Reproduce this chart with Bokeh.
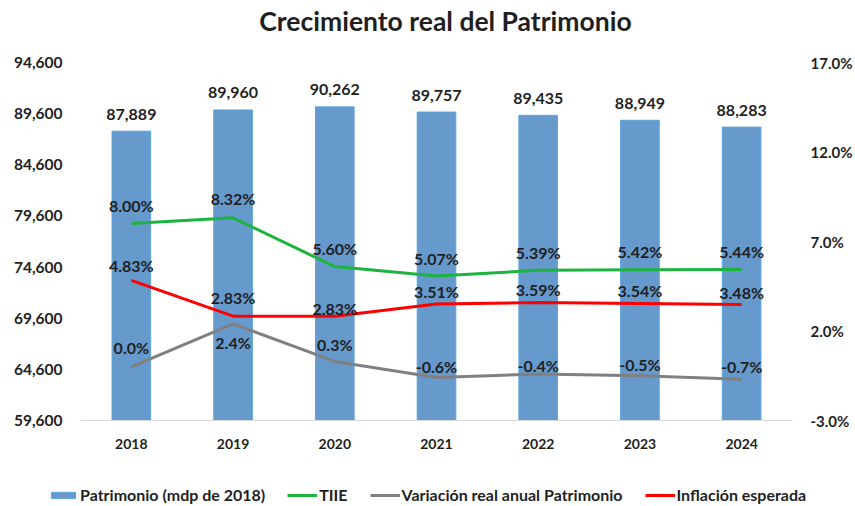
from bokeh.plotting import figure
from bokeh.models import (Range1d, LinearAxis, FactorRange, Legend, LegendItem,
                          NumeralTickFormatter, FixedTicker, CustomJSTickFormatter)
from bokeh.embed import file_html
from bokeh.resources import INLINE
from bokeh.core.properties import value

# ---- data ----
title_text = "Crecimiento real del Patrimonio"
years = ["2018", "2019", "2020", "2021", "2022", "2023", "2024"]
patrimonio = [87889, 89960, 90262, 89757, 89435, 88949, 88283]
tiie = [8.00, 8.32, 5.60, 5.07, 5.39, 5.42, 5.44]
inflacion = [4.83, 2.83, 2.83, 3.51, 3.59, 3.54, 3.48]
variacion = [0.0, 2.4, 0.3, -0.6, -0.4, -0.5, -0.7]
left_ticks = [59600, 64600, 69600, 74600, 79600, 84600, 89600, 94600]
right_ticks = [-3.0, 2.0, 7.0, 12.0, 17.0]
series_names = ["Patrimonio (mdp de 2018)", "TIIE",
                "Variación real anual Patrimonio", "Inflación esperada"]

patrimonio_labels = [f"{v:,}" for v in patrimonio]
tiie_labels = [f"{v:.2f}%" for v in tiie]
inflacion_labels = [f"{v:.2f}%" for v in inflacion]
variacion_labels = [f"{v:.1f}%" for v in variacion]

# label pixel offsets (styling)
tiie_off = [-18, -19, -18, -18, -18, -18, -18]
infl_off = [-15, -19, -8, -12, -13, -13, -12]
var_off = [-19, 19, -17, -11, -8, -11, -13]

FONT = "Lato"
TXT = "#1f1f1f"
C_BAR, C_BAR_LINE = "#6699CC", "#5DA5DD"
C_TIIE, C_VAR, C_INF = "#1DB33F", "#808080", "#FF0000"
W = 855

# ---- title strip ----
tt = figure(width=W, height=40, x_range=Range1d(0, W), y_range=Range1d(0, 40),
            output_backend="svg", toolbar_location=None, min_border=0,
            outline_line_color=None, x_axis_location=None, y_axis_location=None)
tt.grid.visible = False
tt.text(x=[445], y=[20], text=[title_text], text_font=value(FONT),
        text_font_size="26.5px", text_font_style="bold", text_color=TXT,
        text_align="center", text_baseline="middle")

# ---- main chart ----
p = figure(width=W, height=430, x_range=FactorRange(*years),
           y_range=Range1d(left_ticks[0], left_ticks[-1]),
           output_backend="svg", toolbar_location=None,
           min_border_left=80, min_border_right=61,
           min_border_top=22, min_border_bottom=50)
p.extra_y_ranges = {"pct": Range1d(right_ticks[0], right_ticks[-1])}

p.outline_line_color = None
p.xgrid.grid_line_color = None
p.ygrid.grid_line_color = None

p.vbar(x=years, top=patrimonio, bottom=0, width=0.38,
       fill_color=C_BAR, line_color=C_BAR_LINE, line_width=1)

p.line(years, tiie, y_range_name="pct", line_color=C_TIIE, line_width=3)
p.line(years, variacion, y_range_name="pct", line_color=C_VAR, line_width=3)
p.line(years, inflacion, y_range_name="pct", line_color=C_INF, line_width=3)

common = dict(text_font=value(FONT), text_font_size="16px", text_font_style="bold",
              text_color=TXT, text_align="center", text_baseline="middle")
p.text(years, patrimonio, text=patrimonio_labels, y_offset=-17, **common)
p.text(years, tiie, text=tiie_labels, y_offset=tiie_off, y_range_name="pct", **common)
p.text(years, inflacion, text=inflacion_labels, y_offset=infl_off, y_range_name="pct", **common)
p.text(years, variacion, text=variacion_labels, y_offset=var_off, y_range_name="pct", **common)

ly = p.yaxis[0]
ly.ticker = FixedTicker(ticks=left_ticks)
ly.formatter = NumeralTickFormatter(format="0,0")

ry = LinearAxis(y_range_name="pct", ticker=FixedTicker(ticks=right_ticks),
                formatter=CustomJSTickFormatter(code="return tick.toFixed(1) + '%';"))
p.add_layout(ry, "right")

xa = p.xaxis[0]
for ax, st, fs in [(xa, 18, "14px"), (ly, 18, "15.5px"), (ry, 18, "15px")]:
    ax.axis_line_color = None
    ax.major_tick_line_color = None
    ax.minor_tick_line_color = None
    ax.major_tick_out = 0
    ax.major_tick_in = 0
    ax.minor_tick_out = 0
    ax.minor_tick_in = 0
    ax.major_label_text_font = FONT
    ax.major_label_text_font_size = fs
    ax.major_label_text_font_style = "bold"
    ax.major_label_text_color = TXT
    ax.major_label_standoff = st
xa.axis_line_color = "#D9D9D9"

# ---- legend strip ----
lg = figure(width=W, height=36, x_range=Range1d(0, 1), y_range=Range1d(0, 1),
            output_backend="svg", toolbar_location=None, min_border=0,
            outline_line_color=None, x_axis_location=None, y_axis_location=None)
lg.grid.visible = False
# legend-only renderers, placed outside the visible range
r_bar = lg.vbar(x=[-5], top=[-5], bottom=[-6], width=0.1,
                fill_color=C_BAR, line_color=C_BAR_LINE)
r_tiie = lg.line(x=[-6, -5], y=[-6, -5], line_color=C_TIIE, line_width=3)
r_var = lg.line(x=[-6, -5], y=[-6, -5], line_color=C_VAR, line_width=3)
r_inf = lg.line(x=[-6, -5], y=[-6, -5], line_color=C_INF, line_width=3)

legend = Legend(items=[LegendItem(label=n, renderers=[r])
                       for n, r in zip(series_names, [r_bar, r_tiie, r_var, r_inf])],
                orientation="horizontal", location=(48, 2),
                label_text_font=FONT, label_text_font_size="16px",
                label_text_font_style="bold", label_text_color=TXT,
                glyph_width=30, glyph_height=8, spacing=22, label_standoff=2,
                border_line_color=None, background_fill_alpha=0,
                padding=2, margin=0)
lg.add_layout(legend, "center")

open("out.html", "w").write(file_html([tt, p, lg], INLINE))
